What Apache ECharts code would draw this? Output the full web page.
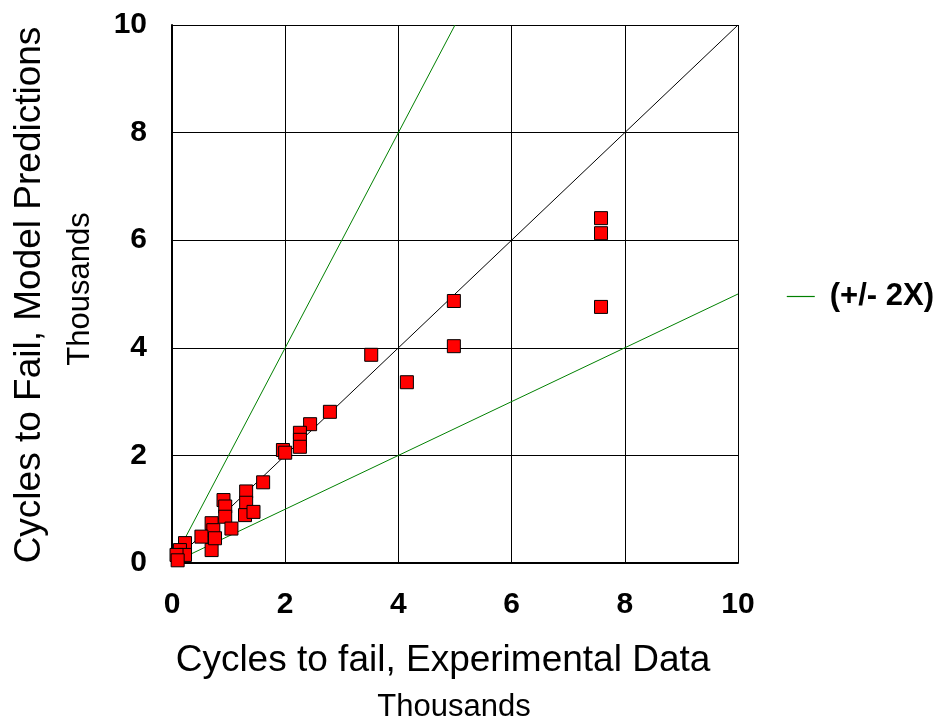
<!DOCTYPE html>
<html>
<head>
<meta charset="utf-8">
<script src="https://cdn.jsdelivr.net/npm/echarts@6/dist/echarts.min.js"></script>
<style>
  html, body { margin: 0; padding: 0; background: #fff; }
  #chart { width: 945px; height: 722px; }
</style>
</head>
<body>
<div id="chart"></div>
<script>
// Cycles to failure (thousands): experimental vs. model predictions
const expCycles = [
  7.58, 7.58, 7.58, 4.98, 4.98, 4.15, 3.52, 2.79, 2.44, 2.26, 2.26, 2.26,
  1.96, 2.0, 1.61, 1.31, 1.31, 1.29, 1.44, 0.91, 0.94, 0.94, 1.05, 0.70,
  0.73, 0.52, 0.70, 0.76, 0.23, 0.14, 0.23, 0.08, 0.10
];
const modelCycles = [
  6.41, 6.13, 4.76, 4.87, 4.03, 3.36, 3.87, 2.81, 2.58, 2.42, 2.29, 2.16,
  2.10, 2.05, 1.50, 1.33, 1.12, 0.89, 0.95, 1.17, 1.05, 0.86, 0.64, 0.74,
  0.61, 0.49, 0.24, 0.46, 0.37, 0.24, 0.15, 0.15, 0.05
];
// Reference lines: 1:1 and factor-of-two bounds
const unityLine = [[0, 0], [10, 10]];
const upperBound = [[0, 0], [5, 10]];
const lowerBound = [[0, 0], [10, 5]];
const axisTicks = [0, 2, 4, 6, 8, 10];

const FONT = '"Liberation Sans", Arial, sans-serif';
const scatterData = expCycles.map((x, i) => [x, modelCycles[i]]);

const chart = echarts.init(document.getElementById('chart'));
chart.setOption({
  animation: false,
  grid: { left: 172, right: 207, top: 25, bottom: 159 },
  xAxis: {
    type: 'value', min: axisTicks[0], max: axisTicks[axisTicks.length - 1], interval: 2,
    axisLine: { lineStyle: { color: '#000', width: 2 } },
    axisTick: { show: false },
    axisLabel: { color: '#000', fontFamily: FONT, fontWeight: 'bold', fontSize: 30, margin: 27 },
    splitLine: { show: true, lineStyle: { color: '#000', width: 1 } }
  },
  yAxis: {
    type: 'value', min: axisTicks[0], max: axisTicks[axisTicks.length - 1], interval: 2,
    axisLine: { lineStyle: { color: '#000', width: 2 } },
    axisTick: { show: false },
    axisLabel: { color: '#000', fontFamily: FONT, fontWeight: 'bold', fontSize: 30, margin: 25 },
    splitLine: { show: true, lineStyle: { color: '#000', width: 1 } }
  },
  legend: {
    data: ['(+/- 2X)'],
    right: 6, top: 276,
    icon: 'rect', itemWidth: 28, itemHeight: 1.2, itemGap: 10,
    textStyle: { color: '#000', fontFamily: FONT, fontWeight: 'bold', fontSize: 31, padding: [0, 0, 0, 10] }
  },
  series: [
    { name: 'unity', type: 'line', data: unityLine, symbol: 'none', silent: true,
      lineStyle: { color: '#000', width: 1 }, z: 3 },
    { name: '(+/- 2X)', type: 'line', data: upperBound, symbol: 'none', silent: true,
      color: '#008000', lineStyle: { color: '#008000', width: 1 }, z: 3 },
    { name: 'lower', type: 'line', data: lowerBound, symbol: 'none', silent: true,
      lineStyle: { color: '#008000', width: 1 }, z: 3 },
    { name: 'data', type: 'scatter', data: scatterData, symbol: 'rect', symbolSize: 13,
      itemStyle: { color: '#ff0000', borderColor: '#000', borderWidth: 1, opacity: 1 }, z: 4 }
  ],
  graphic: [
    { type: 'text', x: 443, y: 661,
      style: { text: 'Cycles to fail, Experimental Data', font: '37px ' + FONT, fill: '#000',
               textAlign: 'center', textVerticalAlign: 'middle' } },
    { type: 'text', x: 454, y: 707,
      style: { text: 'Thousands', font: '31px ' + FONT, fill: '#000',
               textAlign: 'center', textVerticalAlign: 'middle' } },
    { type: 'text', x: 30, y: 295, rotation: Math.PI / 2,
      style: { text: 'Cycles to Fail, Model Predictions', font: '37px ' + FONT, fill: '#000',
               textAlign: 'center', textVerticalAlign: 'middle' } },
    { type: 'text', x: 80, y: 289, rotation: Math.PI / 2,
      style: { text: 'Thousands', font: '31px ' + FONT, fill: '#000',
               textAlign: 'center', textVerticalAlign: 'middle' } }
  ]
});
</script>
</body>
</html>
